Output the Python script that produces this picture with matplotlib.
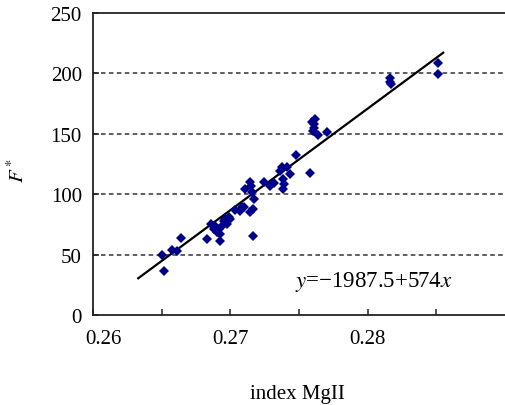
import matplotlib
matplotlib.use("Agg")
import matplotlib.pyplot as plt
import matplotlib.transforms as mtransforms
from matplotlib.ticker import FixedLocator, FixedFormatter

# MgII index vs F*
mg_index = [0.26501, 0.26518, 0.26574, 0.26615, 0.26642, 0.26830, 0.26859, 0.26883,
            0.26903, 0.26922, 0.26927, 0.26939, 0.26964, 0.26976, 0.27000, 0.27036,
            0.27068, 0.27085, 0.27109, 0.27146, 0.27158, 0.27170, 0.27166, 0.27146,
            0.27166, 0.27243, 0.27292, 0.27316, 0.27365, 0.27385, 0.27385, 0.27414,
            0.27433, 0.27482, 0.27584, 0.27604, 0.27613, 0.27620, 0.27637, 0.27706,
            0.28163, 0.28168, 0.28513, 0.28513, 0.26891, 0.26951, 0.26988, 0.26915,
            0.27097, 0.27377, 0.27389, 0.27608, 0.27596, 0.27151, 0.28166]
f_star = [49.7, 36.7, 54.1, 53.2, 64.0, 62.9, 75.3, 71.2,
          68.5, 61.5, 67.1, 73.9, 79.5, 75.3, 79.5, 87.2,
          86.3, 89.2, 104.3, 110.3, 101.6, 96.0, 87.7, 85.0,
          65.1, 110.3, 106.5, 109.0, 119.5, 112.6, 104.3, 122.3,
          116.7, 132.5, 117.5, 152.6, 158.1, 162.3, 149.0, 151.7,
          195.9, 191.2, 208.6, 199.5, 73.9, 78.1, 80.9, 71.2,
          89.2, 122.3, 108.4, 155.0, 160.0, 107.0, 193.0]

fit_x = [0.2633, 0.2855]
fit_y = [30.4, 217.1]

x_ticks = [0.26, 0.265, 0.27, 0.275, 0.28, 0.285]
x_labels = ["0.26", "", "0.27", "", "0.28", ""]
y_ticks = [0, 50, 100, 150, 200, 250]

plt.rcParams["font.family"] = ["Liberation Serif", "DejaVu Serif"]
plt.rcParams["mathtext.fontset"] = "stix"

fig = plt.figure(figsize=(5.05, 4.06), dpi=100)
ax = fig.add_axes([0.184, 0.2217, 0.816, 0.7438])

for y in y_ticks[1:-1]:
    ax.axhline(y, color="#333333", lw=1.1, ls=(0, (3, 2.2)), zorder=1)

ax.plot(fit_x, fit_y, color="black", lw=1.6, zorder=2)
ax.plot(mg_index, f_star, ls="none", marker="D", ms=5.0, color="#00008b",
        markeredgewidth=0, zorder=3)

ax.set_xlim(0.26, 0.29)
ax.set_ylim(0, 250)
ax.xaxis.set_major_locator(FixedLocator(x_ticks))
ax.xaxis.set_major_formatter(FixedFormatter(x_labels))
ax.set_yticks(y_ticks)
ax.tick_params(direction="in", length=4, width=1.1, color="#222222",
               labelsize=15, pad=8)
ax.tick_params(axis="x", pad=10)

for side in ["left", "bottom", "top"]:
    ax.spines[side].set_color("#222222")
    ax.spines[side].set_linewidth(1.3)
ax.spines["right"].set_visible(False)

# first x label sits a bit to the right of its tick
lab = ax.get_xticklabels()[0]
lab.set_transform(lab.get_transform() + mtransforms.ScaledTranslation(11 / 100, 0, fig.dpi_scale_trans))

ax.text(0.27474, 28.4, "$y$=\u22121987.5+574$x$", fontsize=16.5, ha="left", va="center")

fig.text(297 / 505, 1 - 395 / 406, "index MgII", fontsize=15, ha="center", va="center")
fig.text(18 / 505, 1 - 170 / 406, "$F^*$", fontsize=15, ha="center", va="center", rotation=90)

fig.savefig("out.png", dpi=100)
